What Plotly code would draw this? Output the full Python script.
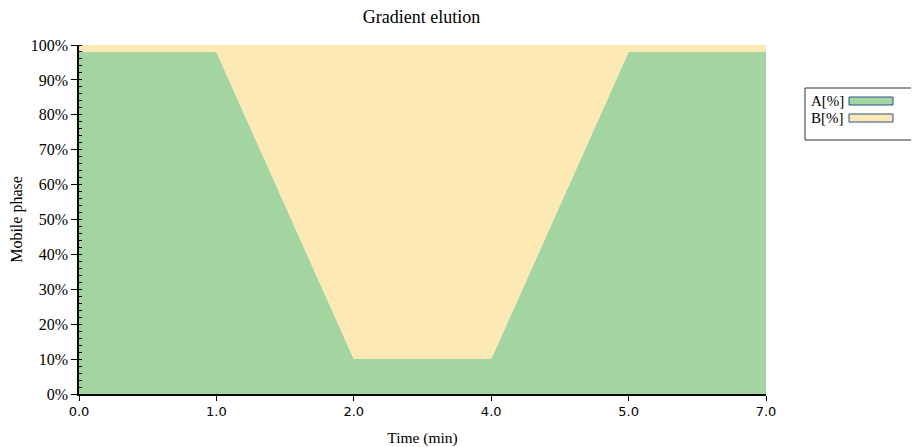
import plotly.graph_objects as go

time_min = ["0.0", "1.0", "2.0", "4.0", "5.0", "7.0"]
a_pct = [98, 98, 10, 10, 98, 98]
b_pct = [100 - v for v in a_pct]
series_names = ["A[%]", "B[%]"]

GREEN = "#a2d5a0"
YELLOW = "#fde9b4"
BORDER = "#2f4f8f"

fig = go.Figure()
fig.add_trace(go.Scatter(x=time_min, y=a_pct, name=series_names[0], stackgroup="one",
                         mode="none", fillcolor=GREEN, showlegend=False))
fig.add_trace(go.Scatter(x=time_min, y=b_pct, name=series_names[1], stackgroup="one",
                         mode="none", fillcolor=YELLOW, showlegend=False))

serif = "Liberation Serif, Times New Roman, serif"
sans = "DejaVu Sans, Verdana, sans-serif"

# page body has an 8px margin; figure coords = window coords - 8
W, H = 911, 439
L, R, T, B = 71, 153, 37, 53

fig.update_layout(
    width=W, height=H,
    margin=dict(l=L, r=R, t=T, b=B),
    plot_bgcolor="white", paper_bgcolor="white",
    title=dict(text="Gradient elution", x=0.454, xanchor="center", y=0.98, yanchor="middle",
               yref="container", font=dict(family=serif, size=18, color="black")),
    xaxis=dict(type="category", range=[0, len(time_min) - 1], automargin=False,
               showgrid=False, zeroline=False, showline=True, linecolor="black", linewidth=1.5,
               ticks="outside", ticklen=5, tickcolor="black",
               tickfont=dict(family=sans, size=13, color="black"),
               title=dict(text="Time (min)", font=dict(family=serif, size=15.5, color="black"), standoff=14)),
    yaxis=dict(range=[0, 100], dtick=10, ticksuffix="%", automargin=False,
               showgrid=False, zeroline=False, showline=True, linecolor="black", linewidth=1.5,
               ticks="outside", ticklen=6, tickcolor="black",
               minor=dict(dtick=2, ticks="inside", ticklen=3, tickcolor="black", showgrid=False),
               tickfont=dict(family=serif, size=16, color="black"),
               title=dict(text="Mobile phase", font=dict(family=serif, size=16, color="black"), standoff=8)),
    showlegend=False,
)

pw, ph = W - L - R, H - T - B
def px(x):
    return (x - 8 - L) / pw
def py(y):
    return (H - B - (y - 8)) / ph

fig.add_shape(type="rect", xref="paper", yref="paper",
              x0=px(805), x1=px(916), y0=py(140), y1=py(88),
              line=dict(color="#333333", width=1), fillcolor="white")
for i, (name, col) in enumerate(zip(series_names, [GREEN, YELLOW])):
    yc = 101 + i * 17
    fig.add_shape(type="rect", xref="paper", yref="paper",
                  x0=px(849), x1=px(893), y0=py(yc + 4), y1=py(yc - 4),
                  line=dict(color=BORDER, width=1), fillcolor=col)
    fig.add_annotation(text=name, xref="paper", yref="paper", x=px(846), y=py(yc),
                       xanchor="right", yanchor="middle", showarrow=False,
                       font=dict(family=serif, size=15, color="black"))

fig.write_html("out.html")
